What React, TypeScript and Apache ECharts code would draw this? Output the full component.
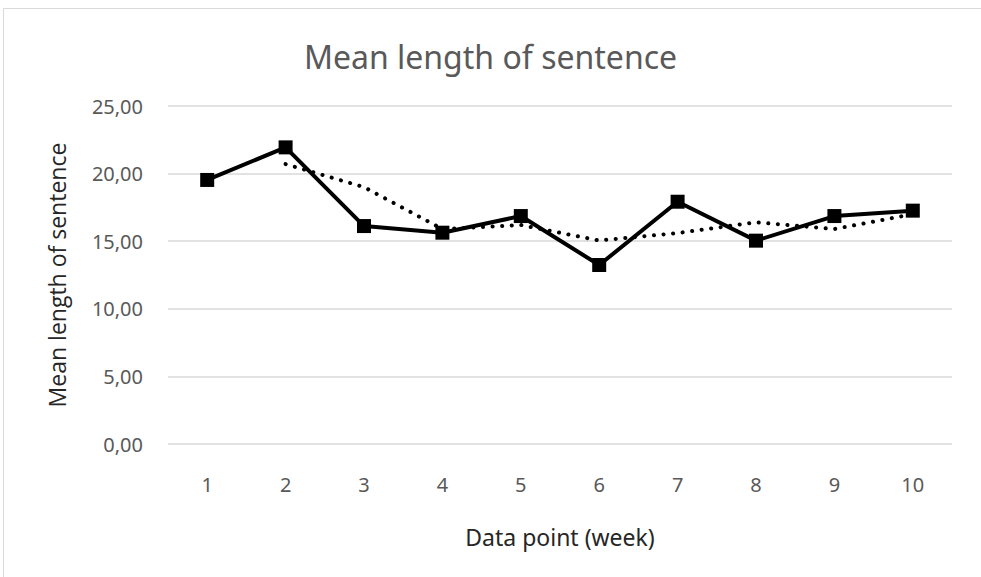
import React, { useEffect, useRef } from "react";
import * as echarts from "echarts";

const categories = ["1", "2", "3", "4", "5", "6", "7", "8", "9", "10"];
const meanLength = [19.53, 21.94, 16.12, 15.63, 16.86, 13.24, 17.92, 15.04, 16.86, 17.26];
const trendValues = [null, 20.7, 19.0, 15.9, 16.2, 15.05, 15.6, 16.4, 15.9, 17.0];

export default function App() {
  const ref = useRef<HTMLDivElement>(null);
  useEffect(() => {
    if (!ref.current) return;
    const chart = echarts.init(ref.current, undefined, { renderer: "svg" });
    const labelColor = "#595959";
    const font = "'Noto Sans', sans-serif";
    chart.setOption({
      animation: false,
      backgroundColor: "#ffffff",
      title: {
        text: "Mean length of sentence",
        left: "center",
        top: 35,
        textStyle: {
          fontFamily: font,
          fontSize: 32,
          fontWeight: "normal",
          color: labelColor,
        },
      },
      graphic: [
        {
          type: "rect",
          shape: { x: 3.5, y: 8.5, width: 1000, height: 600 },
          style: { fill: "none", stroke: "#d9d9d9", lineWidth: 1 },
          silent: true,
          z: -1,
        },
      ],
      grid: { left: 168, right: 29, top: 106, bottom: 133, containLabel: false },
      xAxis: {
        type: "category",
        data: categories,
        boundaryGap: true,
        name: "Data point (week)",
        nameLocation: "middle",
        nameGap: 81,
        nameTextStyle: { fontFamily: font, fontSize: 23, color: "#262626" },
        axisLine: { show: false },
        axisTick: { show: false },
        axisLabel: { fontFamily: font, fontSize: 20, color: labelColor, margin: 30 },
      },
      yAxis: {
        type: "value",
        min: 0,
        max: 25,
        interval: 5,
        name: "Mean length of sentence",
        nameLocation: "middle",
        nameGap: 100,
        nameTextStyle: { fontFamily: "'Open Sans', 'Noto Sans', sans-serif", fontSize: 23, color: "#262626" },
        axisLine: { show: false },
        axisTick: { show: false },
        splitLine: { lineStyle: { color: "#d9d9d9", width: 1.5 } },
        axisLabel: {
          fontFamily: font,
          fontSize: 20,
          color: labelColor,
          margin: 25,
          formatter: (v: number) => v.toFixed(2).replace(".", ","),
        },
      },
      series: [
        {
          name: "Trend",
          type: "line",
          data: trendValues,
          symbol: "none",
          connectNulls: false,
          lineStyle: { color: "#000000", width: 4, type: [0.1, 9.5], cap: "round" },
          z: 1,
        },
        {
          name: "Mean length of sentence",
          type: "line",
          data: meanLength,
          symbol: "rect",
          symbolSize: 14,
          itemStyle: { color: "#000000" },
          lineStyle: { color: "#000000", width: 4 },
          z: 2,
        },
      ],
    });
    return () => chart.dispose();
  }, []);
  return (
    <div
      ref={ref}
      style={{ position: "fixed", left: 0, top: 0, width: 981, height: 577, background: "#fff" }}
    />
  );
}
